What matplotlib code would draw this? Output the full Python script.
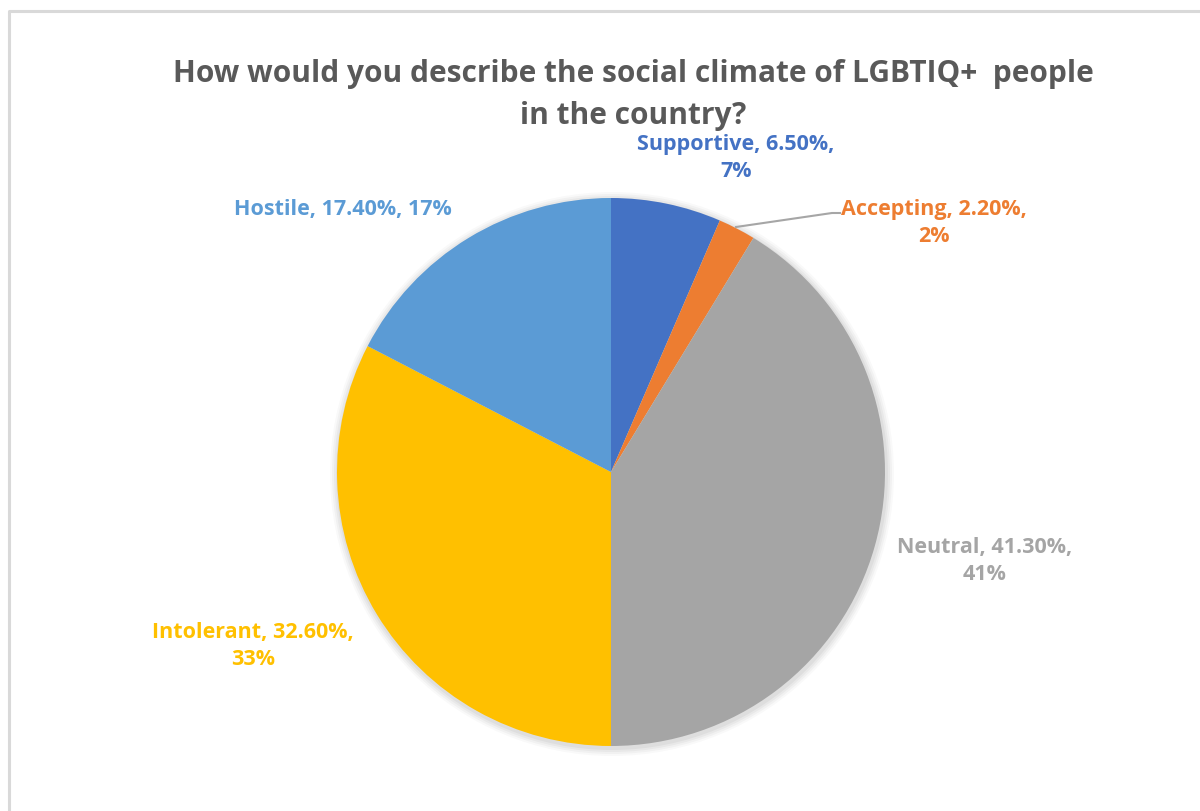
import matplotlib.pyplot as plt

# data
categories = ["Supportive", "Accepting", "Neutral", "Intolerant", "Hostile"]
shares = [6.5, 2.2, 41.3, 32.6, 17.4]
rounded = [7, 2, 41, 33, 17]
colors = ["#4472C4", "#ED7D31", "#A5A5A5", "#FFC000", "#5B9BD5"]

W, H = 1200, 811
plt.rcParams["font.family"] = ["Open Sans", "DejaVu Sans"]

fig = plt.figure(figsize=(W / 100, H / 100), dpi=100)
ax = fig.add_axes([0, 0, 1, 1])

# chart border (only left + top visible in the crop)
ax.plot([9, 9, W + 5], [-5, H - 11, H - 11], color="#d9d9d9", lw=2.2)

cx, cy, r = 611, H - 472, 274

# soft shadow
for k, a in enumerate([0.04, 0.035, 0.03, 0.025]):
    sh = plt.Circle((cx + 1, cy - 2), r + 2 + 2 * k, color="black", alpha=a, lw=0, zorder=1)
    ax.add_patch(sh)

wedges, _ = ax.pie(shares, colors=colors, startangle=90, counterclock=False,
                   center=(cx, cy), radius=r, frame=True,
                   wedgeprops=dict(linewidth=0))
for w in wedges:
    w.set_zorder(2)
ax.set_xlim(0, W)
ax.set_ylim(0, H)
ax.set_aspect("auto")
ax.axis("off")

ax.text(633, H - 95, "How would you describe the social climate of LGBTIQ+  people\nin the country?",
        ha="center", va="center", fontsize=21.5, fontweight="bold", color="#595959",
        linespacing=1.5)

label_pos = [(736, 158), (934, 223), (985, 561), (253, 646), (343, 210)]
for name, s, rr, c, (lx, ly) in zip(categories, shares, rounded, colors, label_pos):
    if name == "Hostile":
        txt = f"{name}, {s:.2f}%, {rr}%"
    else:
        txt = f"{name}, {s:.2f}%,\n{rr}%"
    ax.text(lx, H - ly, txt, ha="center", va="center", fontsize=15.5,
            fontweight="bold", color=c, linespacing=1.4)

# leader line for Accepting
ax.plot([736, 832, 840], [H - 227, H - 213, H - 213], color="#a6a6a6", lw=1.5, zorder=3)

fig.savefig("out.png", dpi=100, facecolor="white")
